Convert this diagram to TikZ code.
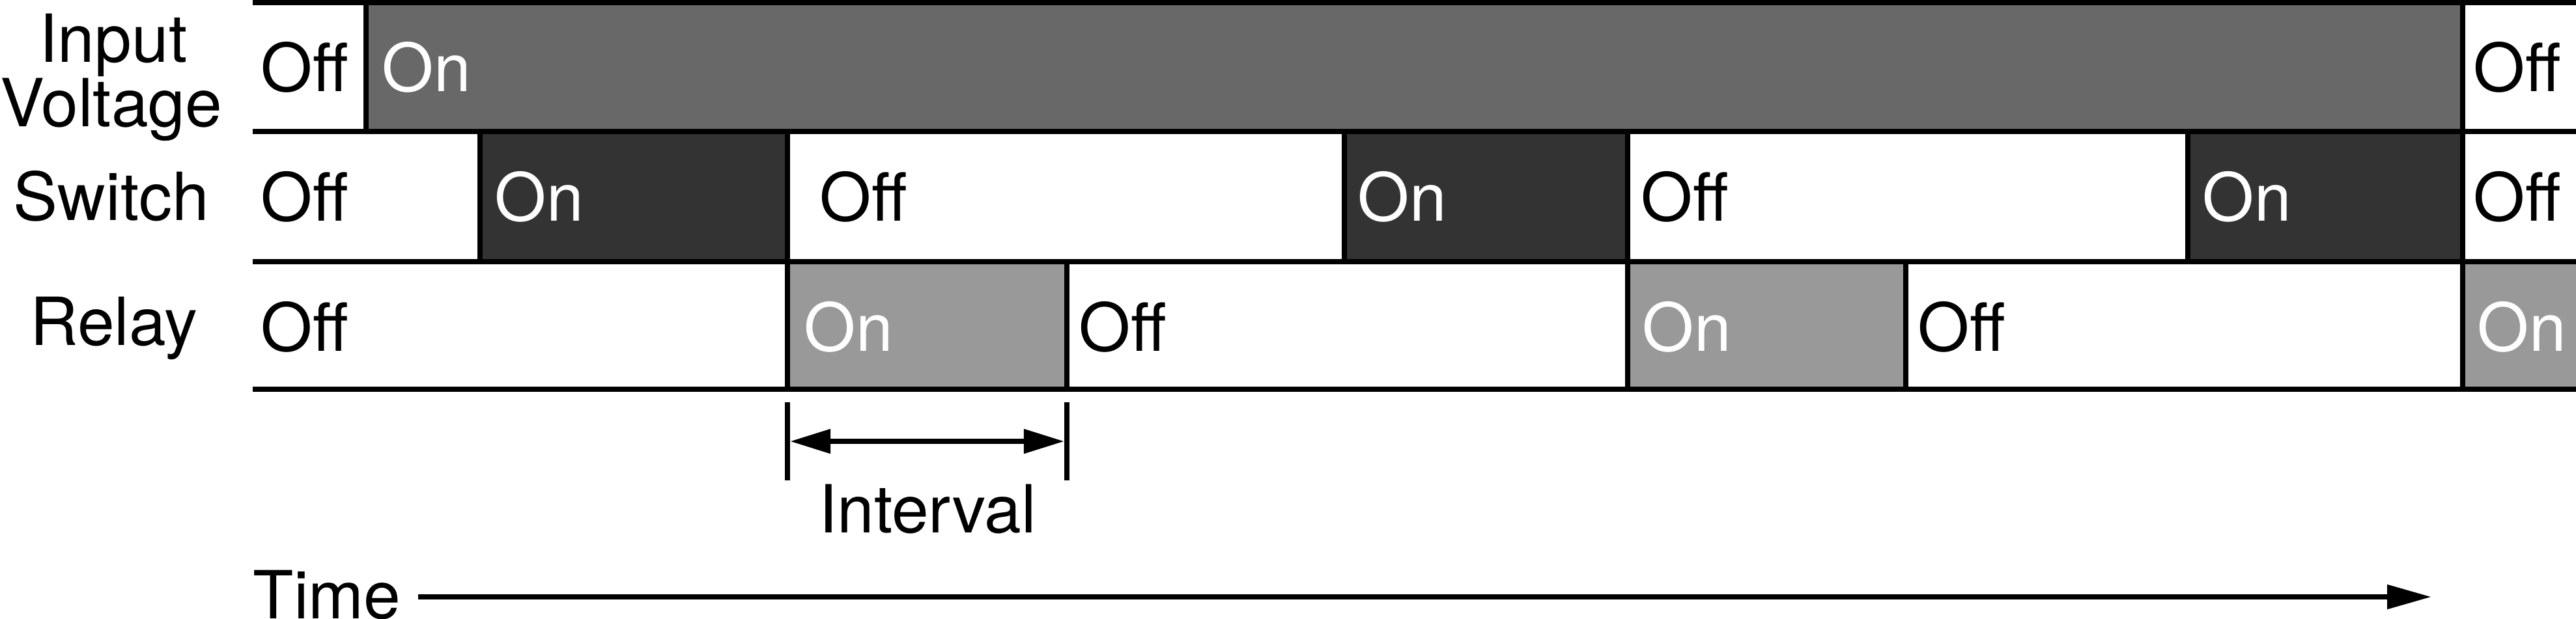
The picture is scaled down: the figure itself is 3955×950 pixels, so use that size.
\documentclass[tikz,border=0pt]{standalone}
\usepackage{fontspec}
\setmainfont{TeX Gyre Heros}
\usetikzlibrary{arrows.meta}
\definecolor{vinon}{HTML}{686868}
\definecolor{swon}{HTML}{333333}
\definecolor{relon}{HTML}{999999}
\begin{document}
\begin{tikzpicture}[x=0.01cm,y=-0.01cm,
  rule/.style={line width=0.08cm, black},
  txt/.style={font=\fontsize{29}{34}\selectfont, inner sep=0pt, anchor=base west},
  wtxt/.style={txt, text=white},
  rowlbl/.style={font=\fontsize{29}{34}\selectfont, inner sep=0pt, anchor=base},
  tip/.style={Triangle[length=0.65cm,width=0.36cm]}]
\useasboundingbox[fill=white] (0,0) rectangle (3955,950);

% fills
\fill[vinon] (562,4) rectangle (3781,202);
\fill[swon] (737,202) rectangle (1209,402);
\fill[swon] (2064,202) rectangle (2499,402);
\fill[swon] (3359,202) rectangle (3781,402);
\fill[relon] (1209,402) rectangle (1638,598);
\fill[relon] (2499,402) rectangle (2926,598);
\fill[relon] (3781,402) rectangle (3955,598);

% horizontal rules
\draw[rule] (388,4) -- (3955,4);
\draw[rule] (388,202) -- (3955,202);
\draw[rule] (388,402) -- (3955,402);
\draw[rule] (388,598) -- (3955,598);

% vertical transitions
\draw[rule] (562,4) -- (562,202);
\draw[rule] (3781,4) -- (3781,202);
\draw[rule] (737,202) -- (737,402);
\draw[rule] (1209,202) -- (1209,402);
\draw[rule] (2064,202) -- (2064,402);
\draw[rule] (2499,202) -- (2499,402);
\draw[rule] (3359,202) -- (3359,402);
\draw[rule] (3781,202) -- (3781,402);
\draw[rule] (1209,402) -- (1209,598);
\draw[rule] (1638,402) -- (1638,598);
\draw[rule] (2499,402) -- (2499,598);
\draw[rule] (2926,402) -- (2926,598);
\draw[rule] (3781,402) -- (3781,598);

% row labels
\node[rowlbl] (lin1) at (174,95) {Input};
\node[rowlbl] (lin2) at (171,194) {Voltage};
\node[rowlbl] (lsw) at (171,338) {Switch};
\node[rowlbl] (lrel) at (175,530) {Relay};

% row 1 texts
\node[txt] (v1) at (400,140) {Off};
\node[wtxt] (v2) at (586,140) {On};
\node[txt] (v3) at (3797,140) {Off};

% row 2 texts
\node[txt] (s1) at (400,339) {Off};
\node[wtxt] (s2) at (759,339) {On};
\node[txt] (s3) at (1258,339) {Off};
\node[wtxt] (s4) at (2084,339) {On};
\node[txt] (s5) at (2519,339) {Off};
\node[wtxt] (s6) at (3381,339) {On};
\node[txt] (s7) at (3797,339) {Off};

% row 3 texts
\node[txt] (r1) at (400,539) {Off};
\node[wtxt] (r2) at (1234,539) {On};
\node[txt] (r3) at (1656,539) {Off};
\node[wtxt] (r4) at (2521,539) {On};
\node[txt] (r5) at (2944,539) {Off};
\node[wtxt] (r6) at (3803,539) {On};

% interval
\draw[rule] (1209,618) -- (1209,738);
\draw[rule] (1638,618) -- (1638,738);
\coordinate (i0) at (1213,678);
\coordinate (i1) at (1634,678);
\draw[rule,{Triangle[length=0.62cm,width=0.36cm]}-{Triangle[length=0.62cm,width=0.36cm]}] (i0) -- (i1);
\node[rowlbl] (intv) at (1424,818) {Interval};

% time axis
\node[txt] (time) at (388,950) {Time};
\coordinate (t0) at (642,917);
\coordinate (t1) at (3733,917);
\draw[rule,-{Triangle[length=0.68cm,width=0.36cm]}] (t0) -- (t1);
\end{tikzpicture}
\end{document}
